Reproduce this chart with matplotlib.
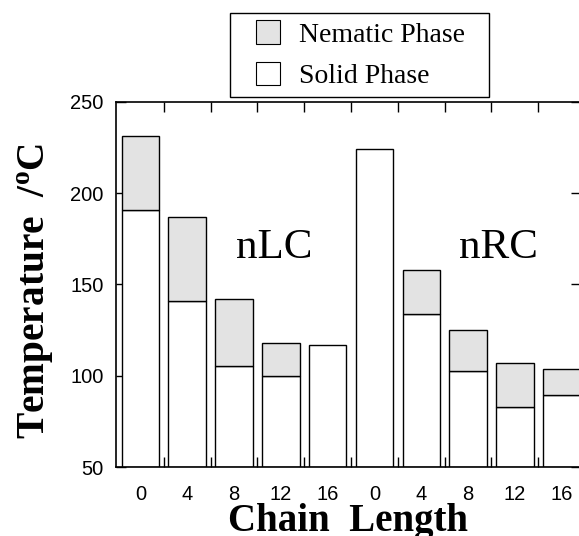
import numpy as np
import matplotlib.pyplot as plt
from matplotlib.patches import Patch, Rectangle
from matplotlib.ticker import FixedLocator

# chain length labels for the two series (nLC then nRC)
chain_labels = ['0', '4', '8', '12', '16', '0', '4', '8', '12', '16']
# top of the solid phase (melting point), deg C
solid_top = [191, 141, 105.5, 100, 117, 224, 134, 102.5, 83, 89.5]
# top of the nematic phase (clearing point), None = no nematic phase
nematic_top = [231, 187, 142, 118, None, None, 158, 125, 107, 104]
group_names = ['nLC', 'nRC']

y_min, y_max = 50, 250
serif = 'Liberation Serif'
sans = 'Liberation Sans'
grey = '#e3e3e3'
W, H = 579, 536

fig = plt.figure(figsize=(W / 100, H / 100), dpi=100)
ax = fig.add_axes([0.2003, 0.1282, 0.803, 0.6821])

x = np.arange(len(chain_labels))
solid = np.array(solid_top, dtype=float)
ax.bar(x, solid - y_min, bottom=y_min, width=0.8, color='white',
       edgecolor='black', linewidth=1.0, zorder=2)

nx = [i for i, v in enumerate(nematic_top) if v is not None]
ntop = np.array([nematic_top[i] for i in nx], dtype=float)
nbot = solid[nx]
ax.bar(nx, ntop - nbot, bottom=nbot, width=0.8, color=grey,
       edgecolor='black', linewidth=1.0, zorder=2)

ax.set_xlim(-0.52, 9.41)
ax.set_ylim(y_min, y_max)
ax.set_yticks(np.arange(y_min, y_max + 1, 50))
ax.set_xticks(x)
ax.set_xticklabels(chain_labels)
ax.xaxis.set_minor_locator(FixedLocator(x[:-1] + 0.5))

for lab in ax.get_xticklabels() + ax.get_yticklabels():
    lab.set_fontfamily(sans)
    lab.set_fontsize(14.5)

ax.tick_params(axis='x', which='major', length=0, pad=12.5)
ax.tick_params(axis='x', which='minor', direction='in', length=7,
               width=1.0, top=True, bottom=True)
ax.tick_params(axis='y', which='major', direction='in', length=7,
               width=1.0, right=True, pad=9)
for s in ax.spines.values():
    s.set_linewidth(1.2)

ax.set_xlabel('Chain  Length', fontfamily=serif, fontweight='bold',
              fontsize=28, labelpad=-0.5)
ax.set_ylabel('Temperature  /$^{\\mathregular{o}}$C', fontfamily=serif,
              fontweight='bold', fontsize=28.4, labelpad=10)
ax.yaxis.label.set_y(0.4836)

ax.text(2.86, 170, group_names[0], fontfamily=serif, fontsize=31,
        ha='center', va='center')
ax.text(7.65, 170, group_names[1], fontfamily=serif, fontsize=31,
        ha='center', va='center')

# legend entries without frame, box drawn separately
handles = [Patch(facecolor=grey, edgecolor='black', linewidth=0.8),
           Patch(facecolor='white', edgecolor='black', linewidth=0.8)]
fig.legend(handles, ['Nematic Phase', 'Solid Phase'],
           loc='upper left', bbox_to_anchor=(255.7 / W, 1 - 20.2 / H),
           bbox_transform=fig.transFigure,
           prop={'family': serif, 'size': 20},
           handlelength=0.864, handleheight=0.93, handletextpad=0.69,
           labelspacing=0.51, borderpad=0, borderaxespad=0,
           frameon=False)
fig.add_artist(Rectangle((230 / W, 1 - 97 / H), 259 / W, 84 / H,
                         transform=fig.transFigure, fill=False,
                         edgecolor='black', linewidth=1.0))

fig.savefig('out.png', dpi=100)
